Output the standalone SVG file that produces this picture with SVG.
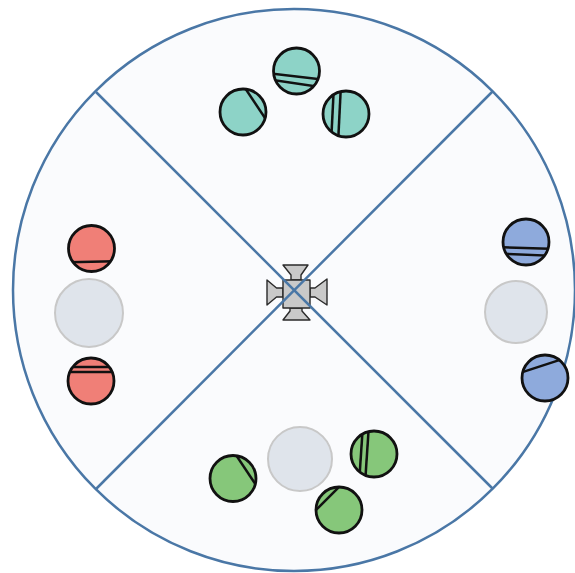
<svg xmlns="http://www.w3.org/2000/svg" width="575" height="573" viewBox="0 0 575 573">
<style>
.ln{stroke:#4a77a6;stroke-width:2.5;fill:none}
.ch{stroke:#111;stroke-width:2.5;fill:none}
.rim{fill:none;stroke:#111;stroke-width:2.8}
.teal{fill:#8dd3c7}
.red{fill:#f07f77}
.blue{fill:#8eaadc}
.green{fill:#86c77a}
.gray{fill:#dfe4eb;stroke:#c8c8c8;stroke-width:2}
.ico{fill:#c9c9c9;stroke:#2a2a2a;stroke-width:1.4;stroke-linejoin:round}
</style>
<defs>
<clipPath id="c"><circle r="23"/></clipPath>
</defs>
<rect width="575" height="573" fill="#ffffff"/>
<g id="field">
<circle cx="294" cy="290" r="281" fill="#fafbfd" stroke="#4a77a6" stroke-width="2.5"/>
</g>
<g id="center-icon">
<polygon class="ico" points="283,265 308,265 301,275 301,280 291,280 291,275"/>
<polygon class="ico" points="283,320 310,320 302,311 302,308 290,308 290,311"/>
<polygon class="ico" points="267,280 267,305 276.5,297 283,297 283,288 276.5,288"/>
<polygon class="ico" points="327,279 327,305 315,297 310,297 310,288 315,288"/>
<rect class="ico" x="283" y="280" width="27" height="28"/>
</g>
<g id="dividers">
<line class="ln" x1="96" y1="92" x2="493" y2="489"/>
<line class="ln" x1="493" y1="91" x2="96" y2="489"/>
</g>
<g id="gray-left"><circle class="gray" cx="89" cy="313" r="34"/></g>
<g id="gray-right"><circle class="gray" cx="516" cy="312" r="31"/></g>
<g id="gray-bottom"><circle class="gray" cx="300" cy="459" r="32"/></g>
<g id="teal-top" transform="translate(296.5,71)">
<circle class="teal" r="23"/>
<g clip-path="url(#c)"><line class="ch" x1="-30" y1="2" x2="30" y2="9"/><line class="ch" x1="-30" y1="8" x2="30" y2="17"/></g>
<circle class="rim" r="23"/>
</g>
<g id="teal-left" transform="translate(243,112)">
<circle class="teal" r="23"/>
<g clip-path="url(#c)"><line class="ch" x1="-2" y1="-30" x2="24" y2="9"/></g>
<circle class="rim" r="23"/>
</g>
<g id="teal-right" transform="translate(346,114)">
<circle class="teal" r="23"/>
<g clip-path="url(#c)"><line class="ch" x1="-12" y1="-30" x2="-15" y2="30"/><line class="ch" x1="-5" y1="-30" x2="-8" y2="30"/></g>
<circle class="rim" r="23"/>
</g>
<g id="red-top" transform="translate(91.5,248.5)">
<circle class="red" r="23"/>
<g clip-path="url(#c)"><line class="ch" x1="-30" y1="14" x2="30" y2="12.5"/></g>
<circle class="rim" r="23"/>
</g>
<g id="red-bottom" transform="translate(91,381)">
<circle class="red" r="23"/>
<g clip-path="url(#c)"><line class="ch" x1="-30" y1="-14" x2="30" y2="-14"/><line class="ch" x1="-30" y1="-9" x2="30" y2="-9"/></g>
<circle class="rim" r="23"/>
</g>
<g id="blue-top" transform="translate(526,242)">
<circle class="blue" r="23"/>
<g clip-path="url(#c)"><line class="ch" x1="-30" y1="5" x2="30" y2="7"/><line class="ch" x1="-30" y1="11.5" x2="30" y2="14"/></g>
<circle class="rim" r="23"/>
</g>
<g id="blue-bottom" transform="translate(545,378)">
<circle class="blue" r="23"/>
<g clip-path="url(#c)"><line class="ch" x1="-30" y1="-3.5" x2="30" y2="-23"/></g>
<circle class="rim" r="23"/>
</g>
<g id="green-left" transform="translate(233,478.5)">
<circle class="green" r="23"/>
<g clip-path="url(#c)"><line class="ch" x1="-2" y1="-31" x2="24" y2="8"/></g>
<circle class="rim" r="23"/>
</g>
<g id="green-right" transform="translate(374,454)">
<circle class="green" r="23"/>
<g clip-path="url(#c)"><line class="ch" x1="-11" y1="-30" x2="-15" y2="30"/><line class="ch" x1="-5" y1="-30" x2="-9" y2="30"/></g>
<circle class="rim" r="23"/>
</g>
<g id="green-bottom" transform="translate(339,510)">
<circle class="green" r="23"/>
<g clip-path="url(#c)"><line class="ch" x1="-28" y1="5" x2="6" y2="-29"/></g>
<circle class="rim" r="23"/>
</g>
</svg>
